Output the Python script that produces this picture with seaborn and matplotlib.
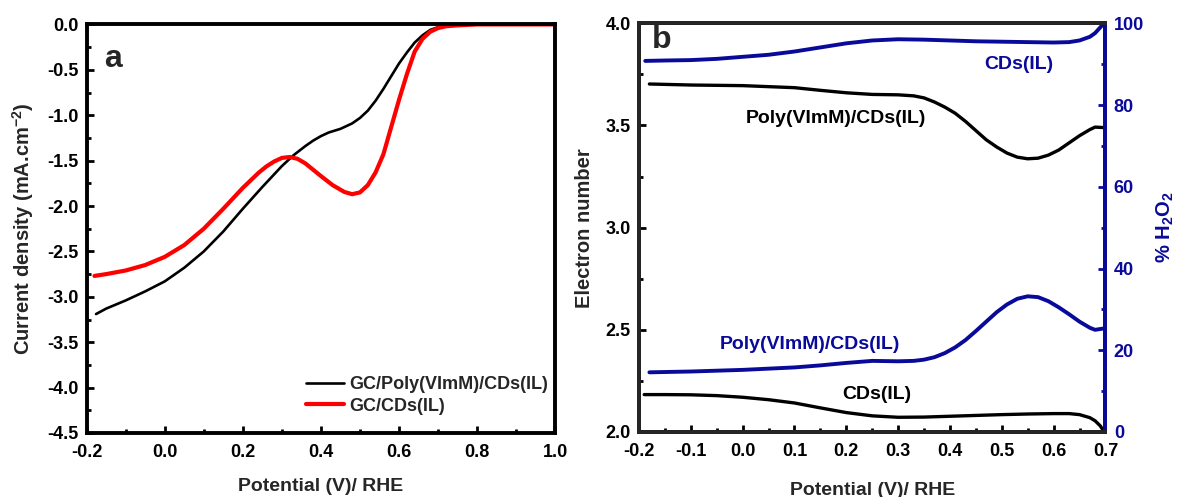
import matplotlib
matplotlib.use("Agg")

import numpy as np
import pandas as pd
import matplotlib.pyplot as plt
from matplotlib.ticker import MultipleLocator, FormatStrFormatter
import seaborn as sns

# ---------------------------------------------------------
# Data
# ---------------------------------------------------------

# panel a : LSV curves
lsv_poly_x = [-0.176, -0.15, -0.1, -0.05, 0.0, 0.05, 0.1, 0.15, 0.2, 0.25,
              0.3, 0.33, 0.36, 0.38, 0.4, 0.42, 0.45, 0.48, 0.5, 0.52,
              0.54, 0.56, 0.58, 0.6, 0.62, 0.64, 0.66, 0.68, 0.7, 0.72,
              0.75, 0.8, 0.9, 1.0]
lsv_poly_y = [-3.19, -3.13, -3.04, -2.94, -2.83, -2.68, -2.50, -2.28, -2.03, -1.79,
              -1.56, -1.44, -1.34, -1.28, -1.23, -1.19, -1.15, -1.09, -1.03, -0.95,
              -0.84, -0.71, -0.57, -0.43, -0.31, -0.20, -0.12, -0.06, -0.03, -0.015,
              -0.005, 0.0, 0.0, 0.0]

lsv_cds_x = [-0.18, -0.15, -0.1, -0.05, 0.0, 0.05, 0.1, 0.15, 0.2, 0.24,
             0.26, 0.28, 0.3, 0.32, 0.34, 0.36, 0.38, 0.4, 0.43, 0.46,
             0.48, 0.5, 0.52, 0.54, 0.56, 0.58, 0.6, 0.62, 0.64, 0.66,
             0.68, 0.7, 0.72, 0.75, 0.8, 0.9, 1.0]
lsv_cds_y = [-2.77, -2.75, -2.71, -2.65, -2.56, -2.43, -2.25, -2.03, -1.80, -1.635,
             -1.565, -1.51, -1.47, -1.46, -1.48, -1.53, -1.60, -1.67, -1.77, -1.845,
             -1.87, -1.85, -1.77, -1.63, -1.43, -1.13, -0.83, -0.55, -0.30, -0.16,
             -0.08, -0.04, -0.02, -0.01, 0.0, 0.0, 0.0]

legend_labels = ["GC/Poly(VImM)/CDs(IL)", "GC/CDs(IL)"]

# panel b : electron number (left axis)
n_poly_x = [-0.18, -0.1, 0.0, 0.1, 0.15, 0.2, 0.25, 0.3, 0.33, 0.35, 0.37, 0.39,
            0.41, 0.43, 0.45, 0.47, 0.49, 0.51, 0.53, 0.55, 0.57, 0.59, 0.61,
            0.63, 0.65, 0.67, 0.68, 0.695]
n_poly_y = [3.703, 3.698, 3.695, 3.685, 3.672, 3.66, 3.652, 3.65, 3.645, 3.635, 3.615, 3.59,
            3.56, 3.52, 3.475, 3.43, 3.395, 3.365, 3.345, 3.337, 3.34, 3.355, 3.38,
            3.415, 3.45, 3.48, 3.492, 3.49]

n_cds_x = [-0.19, -0.15, -0.1, -0.05, 0.0, 0.05, 0.1, 0.15, 0.2, 0.25, 0.3, 0.35,
           0.4, 0.45, 0.5, 0.55, 0.6, 0.63, 0.65, 0.67, 0.68, 0.69, 0.697]
n_cds_y = [2.183, 2.183, 2.182, 2.178, 2.17, 2.158, 2.142, 2.118, 2.095, 2.079, 2.072, 2.073,
           2.077, 2.081, 2.085, 2.088, 2.09, 2.09, 2.085, 2.07, 2.055, 2.03, 2.003]

# panel b : % H2O2 (right axis)
h2o2_poly_x = [-0.18, -0.1, 0.0, 0.1, 0.15, 0.2, 0.25, 0.3, 0.33, 0.35, 0.37, 0.39,
               0.41, 0.43, 0.45, 0.47, 0.49, 0.51, 0.53, 0.55, 0.57, 0.59, 0.61,
               0.63, 0.65, 0.67, 0.68, 0.695]
h2o2_poly_y = [14.6, 14.8, 15.2, 15.8, 16.3, 16.9, 17.4, 17.3, 17.4, 17.7, 18.3, 19.3,
               20.7, 22.5, 24.7, 27.0, 29.3, 31.2, 32.6, 33.2, 33.0, 32.0, 30.5,
               28.8, 27.0, 25.5, 25.0, 25.3]

h2o2_cds_x = [-0.188, -0.15, -0.1, -0.05, 0.0, 0.05, 0.1, 0.15, 0.2, 0.25, 0.3, 0.35,
              0.4, 0.45, 0.5, 0.55, 0.6, 0.63, 0.65, 0.67, 0.68, 0.69, 0.697]
h2o2_cds_y = [90.8, 90.9, 91.0, 91.3, 91.8, 92.3, 93.1, 94.1, 95.1, 95.8, 96.1, 96.0,
              95.8, 95.6, 95.5, 95.4, 95.3, 95.4, 95.8, 96.7, 97.6, 99.0, 100.0]

# ---------------------------------------------------------
# Style
# ---------------------------------------------------------

sns.set_theme(style="ticks")
plt.rcParams["font.family"] = ["Liberation Sans", "DejaVu Sans"]
plt.rcParams["font.weight"] = "bold"
plt.rcParams["axes.labelweight"] = "bold"
plt.rcParams["mathtext.default"] = "regular"

BLUE = "#0a0a9a"
SPINE_W = 2.8
TICK_FS = 13
LABEL_FS = 14
YLABEL_FS = 14.5
NOTE_FS = 14


def style_axis(ax):
    for s in ax.spines.values():
        s.set_linewidth(SPINE_W)
        s.set_color("black")
    ax.tick_params(which="both", direction="in", width=2.0, labelsize=TICK_FS,
                   top=False, right=False, colors="black")
    ax.tick_params(which="major", length=5)
    ax.tick_params(which="minor", length=3)
    ax.tick_params(axis="x", pad=8)
    ax.tick_params(axis="y", pad=6)


fig = plt.figure(figsize=(11.79, 4.97), dpi=100)
ax1 = fig.add_axes([0.0735, 0.1288, 0.3974, 0.822])
ax2 = fig.add_axes([0.542, 0.1308, 0.3956, 0.8223])

# ---------------------------------------------------------
# Panel a
# ---------------------------------------------------------

sns.lineplot(x=lsv_poly_x, y=lsv_poly_y, ax=ax1, color="black", lw=1.9,
             sort=False, label=legend_labels[0])
sns.lineplot(x=lsv_cds_x, y=lsv_cds_y, ax=ax1, color="#ff0000", lw=3.0,
             sort=False, label=legend_labels[1])

ax1.set_xlim(-0.2, 1.0)
ax1.set_ylim(-4.5, 0.0)
ax1.xaxis.set_major_locator(MultipleLocator(0.2))
ax1.xaxis.set_minor_locator(MultipleLocator(0.1))
ax1.yaxis.set_major_locator(MultipleLocator(0.5))
ax1.yaxis.set_minor_locator(MultipleLocator(0.25))
ax1.xaxis.set_major_formatter(FormatStrFormatter("%.1f"))
ax1.yaxis.set_major_formatter(FormatStrFormatter("%.1f"))
style_axis(ax1)

ax1.set_xlabel("Potential (V)/ RHE", fontsize=LABEL_FS, labelpad=12)
ax1.set_ylabel("Current density (mA.cm$^{-2}$)", fontsize=YLABEL_FS, labelpad=8)
ax1.text(0.056, 0.915, "a", transform=ax1.transAxes, fontsize=23,
         fontweight="bold", ha="center", va="center")

ax1.legend(loc="lower right", bbox_to_anchor=(0.985, 0.045), frameon=False,
           fontsize=13, handlelength=2.1, handletextpad=0.3,
           labelspacing=0.25, borderpad=0, borderaxespad=0)

# ---------------------------------------------------------
# Panel b
# ---------------------------------------------------------

sns.lineplot(x=n_poly_x, y=n_poly_y, ax=ax2, color="black", lw=2.4, sort=False)
sns.lineplot(x=n_cds_x, y=n_cds_y, ax=ax2, color="black", lw=2.4, sort=False)

ax2.set_xlim(-0.2, 0.7)
ax2.set_ylim(2.0, 4.0)
ax2.xaxis.set_major_locator(MultipleLocator(0.1))
ax2.xaxis.set_minor_locator(MultipleLocator(0.05))
ax2.yaxis.set_major_locator(MultipleLocator(0.5))
ax2.yaxis.set_minor_locator(MultipleLocator(0.25))
ax2.xaxis.set_major_formatter(FormatStrFormatter("%.1f"))
ax2.yaxis.set_major_formatter(FormatStrFormatter("%.1f"))
style_axis(ax2)
ax2.set_xlabel("Potential (V)/ RHE", fontsize=LABEL_FS, labelpad=16)
ax2.set_ylabel("Electron number", fontsize=YLABEL_FS, labelpad=8)

ax3 = ax2.twinx()
sns.lineplot(x=h2o2_poly_x, y=h2o2_poly_y, ax=ax3, color=BLUE, lw=2.8, sort=False)
sns.lineplot(x=h2o2_cds_x, y=h2o2_cds_y, ax=ax3, color=BLUE, lw=2.8, sort=False)
ax3.set_ylim(0, 100)
ax3.yaxis.set_major_locator(MultipleLocator(20))
ax3.yaxis.set_minor_locator(MultipleLocator(10))
for s in ax3.spines.values():
    s.set_linewidth(SPINE_W)
ax3.spines["right"].set_color(BLUE)
ax3.tick_params(which="both", direction="in", width=2.0, labelsize=TICK_FS,
                colors=BLUE, pad=6)
ax3.tick_params(which="major", length=5)
ax3.tick_params(which="minor", length=3)
ax3.set_ylabel("% H$_2$O$_2$", fontsize=YLABEL_FS, color=BLUE, rotation=90,
               labelpad=8)

ax2.text(0.049, 0.958, "b", transform=ax2.transAxes, fontsize=23,
         fontweight="bold", ha="center", va="center")

ax2.text(0.532, 3.80, "CDs(IL)", color=BLUE, fontsize=NOTE_FS, ha="center", va="center")
ax2.text(0.180, 3.535, "Poly(VImM)/CDs(IL)", color="black", fontsize=NOTE_FS,
         ha="center", va="center")
ax2.text(0.130, 2.427, "Poly(VImM)/CDs(IL)", color=BLUE, fontsize=NOTE_FS,
         ha="center", va="center")
ax2.text(0.259, 2.183, "CDs(IL)", color="black", fontsize=NOTE_FS,
         ha="center", va="center")

fig.savefig("out.png", dpi=100)
plt.close(fig)
